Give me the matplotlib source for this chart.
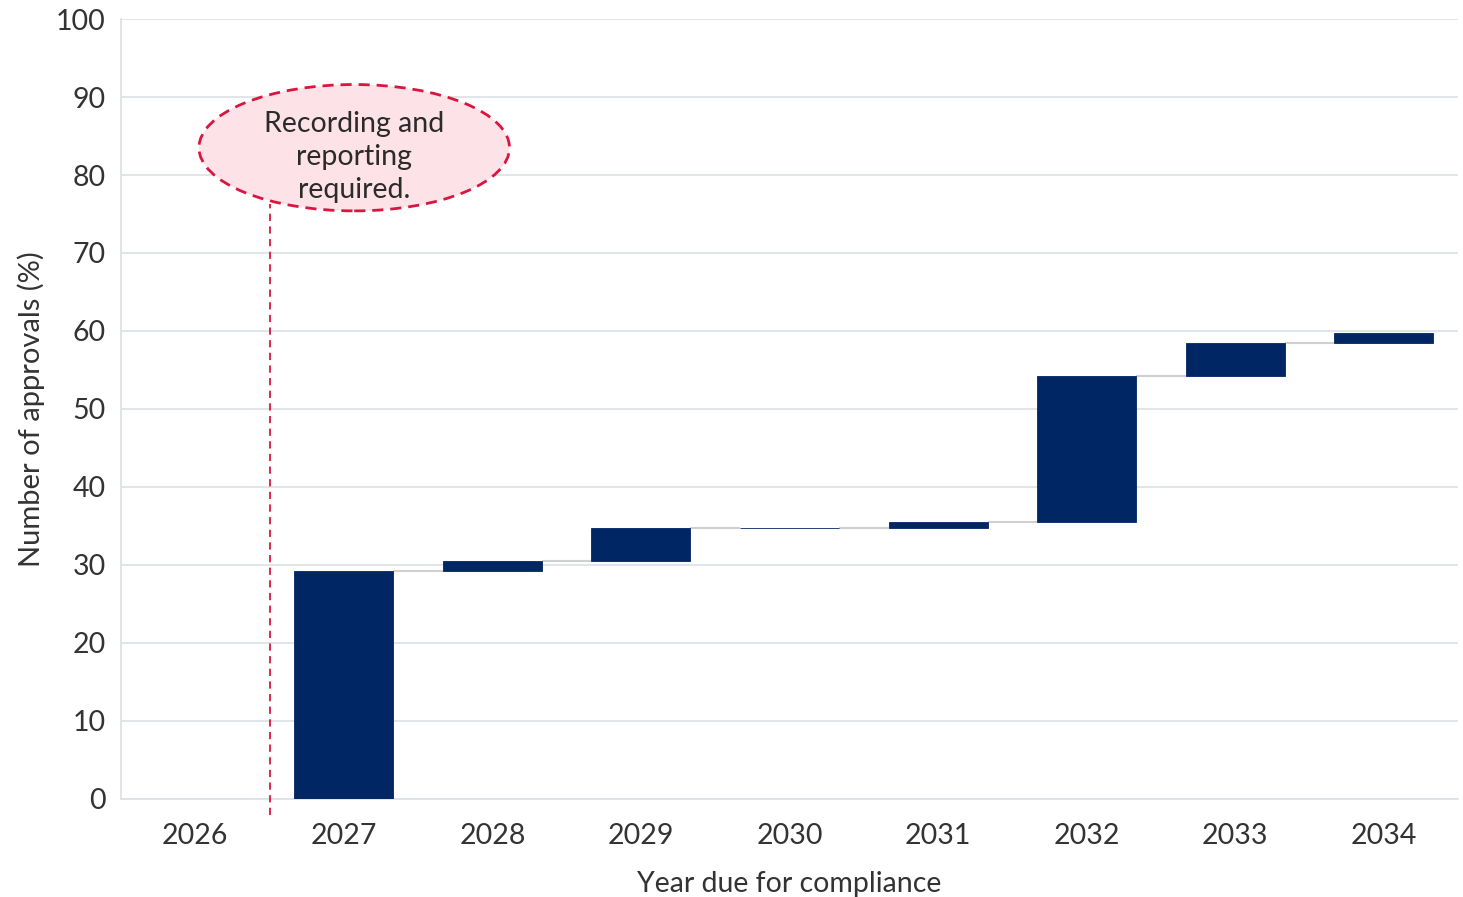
import matplotlib
matplotlib.use("Agg")
import matplotlib.pyplot as plt
from matplotlib.patches import Ellipse

years = ["2026", "2027", "2028", "2029", "2030", "2031", "2032", "2033", "2034"]
increments = [0.0, 29.2, 1.3, 4.2, 0.1, 0.7, 18.7, 4.2, 1.4]
yticks = [0, 10, 20, 30, 40, 50, 60, 70, 80, 90, 100]
annotation = "Recording and\nreporting\nrequired."

plt.rcParams['font.family'] = ['Lato', 'DejaVu Sans']

fig = plt.figure(figsize=(14.63, 8.97), dpi=100)
ax = fig.add_axes([0.0827, 0.1093, 0.9139, 0.8695])

bottoms = []
tops = []
cum = 0.0
for v in increments:
    bottoms.append(cum)
    cum += v
    tops.append(cum)

x = list(range(len(years)))
bar_w = 0.667
navy = "#002664"
ax.bar(x, increments, bottom=bottoms, width=bar_w, color=navy, zorder=3,
       edgecolor=navy, linewidth=0.6)

# connectors
for i in range(len(years) - 1):
    if tops[i] <= 0:
        continue
    ax.plot([x[i] + bar_w / 2, x[i + 1] - bar_w / 2], [tops[i], tops[i]],
            color="#d0d0d0", lw=1.5, zorder=2, solid_capstyle="butt")

ax.set_xlim(-0.5, len(years) - 0.5)
ax.set_ylim(0, 100)
ax.set_yticks(yticks)
ax.set_xticks(x)
ax.set_xticklabels(years)
ax.tick_params(axis="both", length=0, labelsize=20.5, colors="#333333")
ax.tick_params(axis="x", pad=17)
ax.tick_params(axis="y", pad=11)
ax.grid(axis="y", color="#dde0e4", lw=1.2, zorder=0)
ax.set_axisbelow(True)
for s in ["top", "right"]:
    ax.spines[s].set_visible(False)
for s in ["left", "bottom"]:
    ax.spines[s].set_color("#dde0e4")
    ax.spines[s].set_linewidth(1.2)

ax.set_xlabel("Year due for compliance", fontsize=20.5, color="#333333", labelpad=16)
ax.set_ylabel("Number of approvals (%)", fontsize=21, color="#333333", labelpad=8)

red = "#d9163f"
ax.plot([0.5, 0.5], [-2.1, 76.3], color=red, lw=1.3, ls=(0, (4, 3)),
        clip_on=False, zorder=4)
ell = Ellipse((1.07, 83.5), 2.09, 16.2, facecolor="#fde3e8", edgecolor=red,
              lw=2, ls=(0, (4, 2.5)), zorder=5)
ax.add_patch(ell)
ax.text(1.07, 82.3, annotation, ha="center", va="center", fontsize=20.5,
        color="#2b2b2b", zorder=6, linespacing=1.35)

fig.savefig("out.png", dpi=100)
